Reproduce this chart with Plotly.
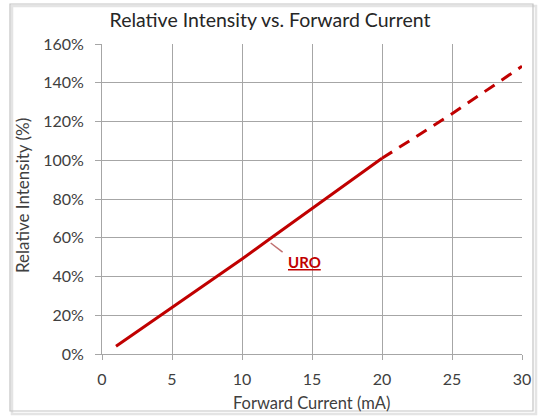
import plotly.graph_objects as go

current_solid = [1, 5, 8, 10, 12, 15, 20]
intensity_solid = [4, 24, 39, 49, 59.5, 75, 101]
current_dashed = [20, 25, 30]
intensity_dashed = [101, 124, 148.5]
x_ticks = [0, 5, 10, 15, 20, 25, 30]
y_ticks = [0, 20, 40, 60, 80, 100, 120, 140, 160]
y_tick_labels = [f"{v}%" for v in y_ticks]
series_label = "URO"

RED = "#C00000"
FONT = "Lato, Liberation Sans, sans-serif"
TXT = "#404040"

fig = go.Figure()
fig.add_trace(go.Scatter(x=current_solid, y=intensity_solid, mode="lines",
                         line=dict(color=RED, width=3), showlegend=False))
fig.add_trace(go.Scatter(x=current_dashed, y=intensity_dashed, mode="lines",
                         line=dict(color=RED, width=3, dash="12px,8.4px"), showlegend=False))

W, H = 540, 417
ml, mr, mt, mb = 102, 18, 44, 63
pw, ph = W - ml - mr, H - mt - mb

def px_x(px):
    return (px - ml) / pw

def px_y(py):
    return (H - mb - py) / ph

# outer chart border with a soft shadow on the right/bottom
fig.add_shape(type="rect", xref="paper", yref="paper",
              x0=px_x(12), x1=px_x(536), y0=px_y(414), y1=px_y(6),
              line=dict(color="#e4e4e4", width=2.5), layer="above")
fig.add_shape(type="rect", xref="paper", yref="paper",
              x0=px_x(10), x1=px_x(533), y0=px_y(411), y1=px_y(4),
              line=dict(color="#c4c4c4", width=1.2), fillcolor="rgba(0,0,0,0)", layer="above")

# leader line for label
fig.add_shape(type="line", xref="x", yref="y",
              x0=12.05, y0=57.3, x1=12.9, y1=52.6,
              line=dict(color="#c07070", width=1.5))

fig.add_annotation(x=14.45, y=47.3, xref="x", yref="y", text=f"<b><u>{series_label}</u></b>",
                   showarrow=False, font=dict(color=RED, size=15, family=FONT))

# axis titles
fig.add_annotation(x=px_x(311), y=px_y(403), xref="paper", yref="paper",
                   text="Forward Current (mA)", showarrow=False,
                   xanchor="center", yanchor="middle",
                   font=dict(size=16.5, color=TXT, family=FONT))
fig.add_annotation(x=px_x(22), y=px_y(196), xref="paper", yref="paper",
                   text="Relative Intensity (%)", showarrow=False, textangle=-90,
                   xanchor="center", yanchor="middle",
                   font=dict(size=17, color=TXT, family=FONT))

fig.update_layout(
    width=W, height=H,
    margin=dict(l=ml, r=mr, t=mt, b=mb),
    paper_bgcolor="white", plot_bgcolor="white",
    title=dict(text="Relative Intensity vs. Forward Current", x=0.5, xref="container",
               xanchor="center", y=1 - 20 / H, yanchor="middle",
               font=dict(family=FONT, size=19.5, color="#262626")),
    font=dict(family=FONT, color=TXT, size=15),
)
fig.update_xaxes(range=[0, 30], tickvals=x_ticks, showgrid=True, gridcolor="#a6a6a6", gridwidth=1,
                 showline=True, linecolor="#a6a6a6", ticks="outside", ticklen=5, tickcolor="#a6a6a6",
                 zeroline=False, automargin=False, ticklabelstandoff=6,
                 tickfont=dict(size=16, color=TXT))
fig.update_yaxes(range=[0, 160], tickvals=y_ticks, ticktext=y_tick_labels, showgrid=True,
                 gridcolor="#a6a6a6", gridwidth=1, showline=True, linecolor="#a6a6a6",
                 ticks="outside", ticklen=6, tickcolor="#a6a6a6", zeroline=False,
                 automargin=False, ticklabelstandoff=8,
                 tickfont=dict(size=16, color=TXT))
fig.write_html("out.html", config={"displayModeBar": False},
               post_script="document.body.style.margin='0';")
